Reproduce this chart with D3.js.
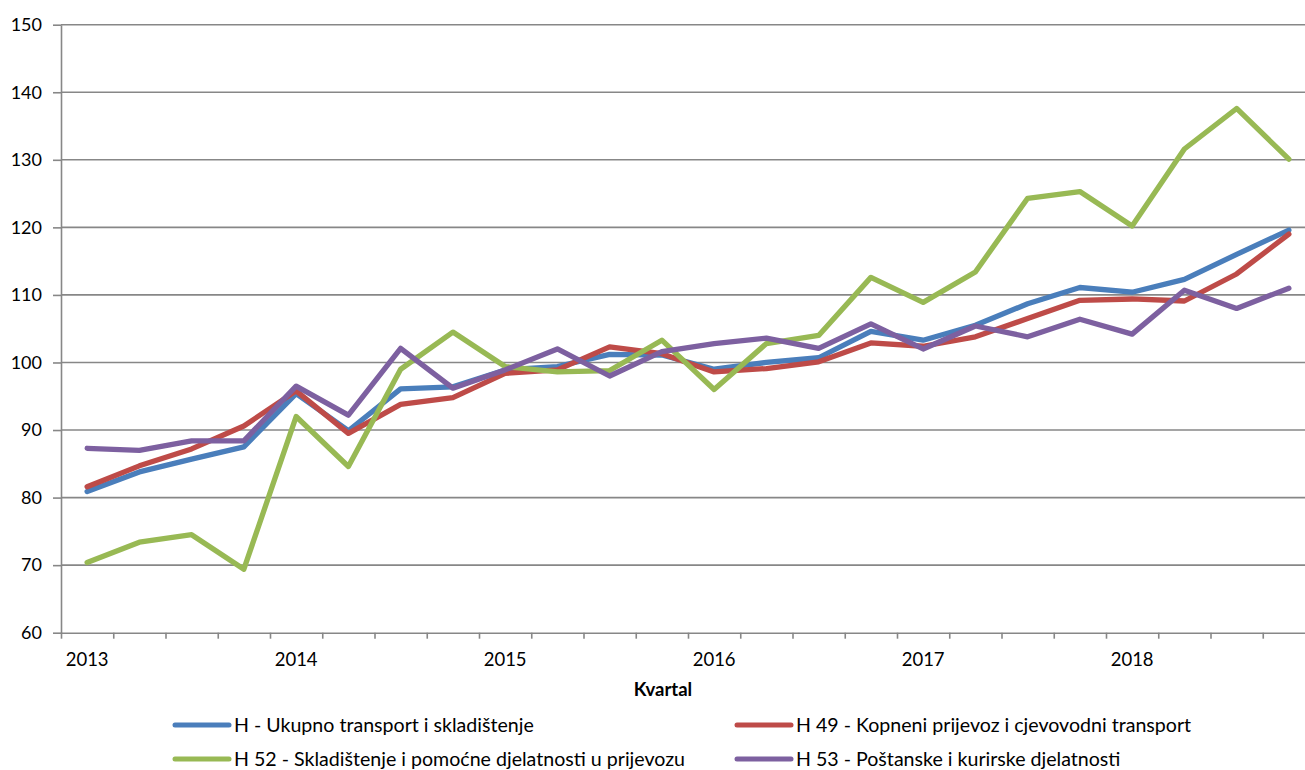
<!DOCTYPE html>
<html>
<head>
<meta charset="utf-8">
<script src="https://cdn.jsdelivr.net/npm/d3@7"></script>
<style>
  html, body { margin: 0; padding: 0; background: #fff; }
  svg { display: block; font-family: Lato, "Open Sans", sans-serif; }
</style>
</head>
<body>
<svg id="chart" width="1305" height="770"></svg>
<script>
// ---- Data ----
const categories = [
  "2013","","","",
  "2014","","","",
  "2015","","","",
  "2016","","","",
  "2017","","","",
  "2018","","",""
];
const yTicks = [60, 70, 80, 90, 100, 110, 120, 130, 140, 150];
const seriesNames = [
  "H - Ukupno transport i skladištenje",
  "H 49 - Kopneni prijevoz i cjevovodni transport",
  "H 52 - Skladištenje i pomoćne djelatnosti u prijevozu",
  "H 53 - Poštanske i kurirske djelatnosti"
];
const seriesH   = [80.9, 83.8, 85.7, 87.5, 95.4, 89.9, 96.1, 96.4, 98.9, 99.4, 101.2, 101.1, 99.0, 100.0, 100.7, 104.6, 103.3, 105.5, 108.7, 111.1, 110.4, 112.3, 116.0, 119.6];
const seriesH49 = [81.6, 84.7, 87.2, 90.6, 95.8, 89.5, 93.8, 94.8, 98.4, 98.9, 102.3, 101.3, 98.6, 99.1, 100.1, 102.9, 102.4, 103.8, 106.5, 109.2, 109.4, 109.1, 113.1, 119.0];
const seriesH52 = [70.4, 73.4, 74.5, 69.4, 92.0, 84.6, 99.0, 104.5, 99.4, 98.6, 98.8, 103.3, 96.0, 102.8, 104.0, 112.6, 108.9, 113.4, 124.3, 125.3, 120.2, 131.6, 137.6, 130.1];
const seriesH53 = [87.3, 87.0, 88.4, 88.4, 96.5, 92.2, 102.1, 96.2, 98.9, 102.0, 98.0, 101.6, 102.8, 103.6, 102.1, 105.7, 102.0, 105.4, 103.8, 106.4, 104.2, 110.7, 108.0, 111.0];
const colors = ["#4A7EBB", "#BE4B48", "#98B954", "#7D60A0"];
const axisTitle = "Kvartal";

// ---- Layout ----
const svg = d3.select("#chart");
const mLeft = 61, mRight = 1315, mTop = 24.7, mBottom = 632.7;
const n = categories.length;

const xBand = d3.scaleBand().domain(d3.range(n)).range([mLeft, mRight]).paddingInner(0).paddingOuter(0);
const xEdge = d3.scaleLinear().domain([0, n]).range([mLeft, mRight]);
const y = d3.scaleLinear().domain([60, 150]).range([mBottom, mTop]);
const xc = i => xBand(i) + xBand.bandwidth() / 2;

const gridColor = "#878787";

// gridlines
svg.append("g")
  .selectAll("line")
  .data(yTicks.filter(v => v !== 60))
  .join("line")
  .attr("x1", mLeft).attr("x2", mRight)
  .attr("y1", d => y(d)).attr("y2", d => y(d))
  .attr("stroke", gridColor).attr("stroke-width", 1.6);

// y axis
const yAxis = svg.append("g").attr("transform", `translate(${mLeft},0)`)
  .call(d3.axisLeft(y).tickValues(yTicks).tickSize(8).tickSizeOuter(0).tickPadding(11));
yAxis.select(".domain").attr("stroke", gridColor).attr("stroke-width", 1.6);
yAxis.selectAll(".tick line").attr("stroke", gridColor).attr("stroke-width", 1.6);
yAxis.selectAll(".tick text").attr("font-size", 18).attr("fill", "#000")
  .attr("font-family", "Lato, 'Open Sans', sans-serif");

// x axis: ticks at category boundaries
const xAxisTicks = svg.append("g").attr("transform", `translate(0,${mBottom})`)
  .call(d3.axisBottom(xEdge).tickValues(d3.range(n + 1)).tickFormat("").tickSize(6).tickSizeOuter(0));
xAxisTicks.select(".domain").attr("stroke", gridColor).attr("stroke-width", 1.6);
xAxisTicks.selectAll(".tick line").attr("stroke", gridColor).attr("stroke-width", 1.6);

// x axis labels at category centres
const xAxisLabels = svg.append("g").attr("transform", `translate(0,${mBottom})`)
  .call(d3.axisBottom(xBand).tickSize(0).tickPadding(20).tickFormat(i => categories[i]));
xAxisLabels.select(".domain").remove();
xAxisLabels.selectAll(".tick text").attr("font-size", 18.5).attr("fill", "#000")
  .attr("font-family", "Lato, 'Open Sans', sans-serif");

// axis title
svg.append("text")
  .attr("x", 663).attr("y", 696)
  .attr("text-anchor", "middle")
  .attr("font-size", 18.5).attr("font-weight", "bold")
  .text(axisTitle);

// lines
const allSeries = [seriesH, seriesH49, seriesH52, seriesH53];
const line = d3.line().x((d, i) => xc(i)).y(d => y(d));
svg.append("g")
  .selectAll("path")
  .data(allSeries)
  .join("path")
  .attr("d", d => line(d))
  .attr("fill", "none")
  .attr("stroke", (d, i) => colors[i])
  .attr("stroke-width", 5.3)
  .attr("stroke-linejoin", "round")
  .attr("stroke-linecap", "round");

// legend
const legendPos = [
  {x: 175, y: 725}, {x: 737, y: 725},
  {x: 175, y: 759}, {x: 737, y: 759}
];
const lg = svg.append("g");
seriesNames.forEach((name, i) => {
  const p = legendPos[i];
  lg.append("line")
    .attr("x1", p.x).attr("x2", p.x + 54)
    .attr("y1", p.y).attr("y2", p.y)
    .attr("stroke", colors[i]).attr("stroke-width", 5).attr("stroke-linecap", "round");
  lg.append("text")
    .attr("x", p.x + 59).attr("y", p.y)
    .attr("dy", "0.35em")
    .attr("font-size", 19.6)
    .text(name);
});
</script>
</body>
</html>
